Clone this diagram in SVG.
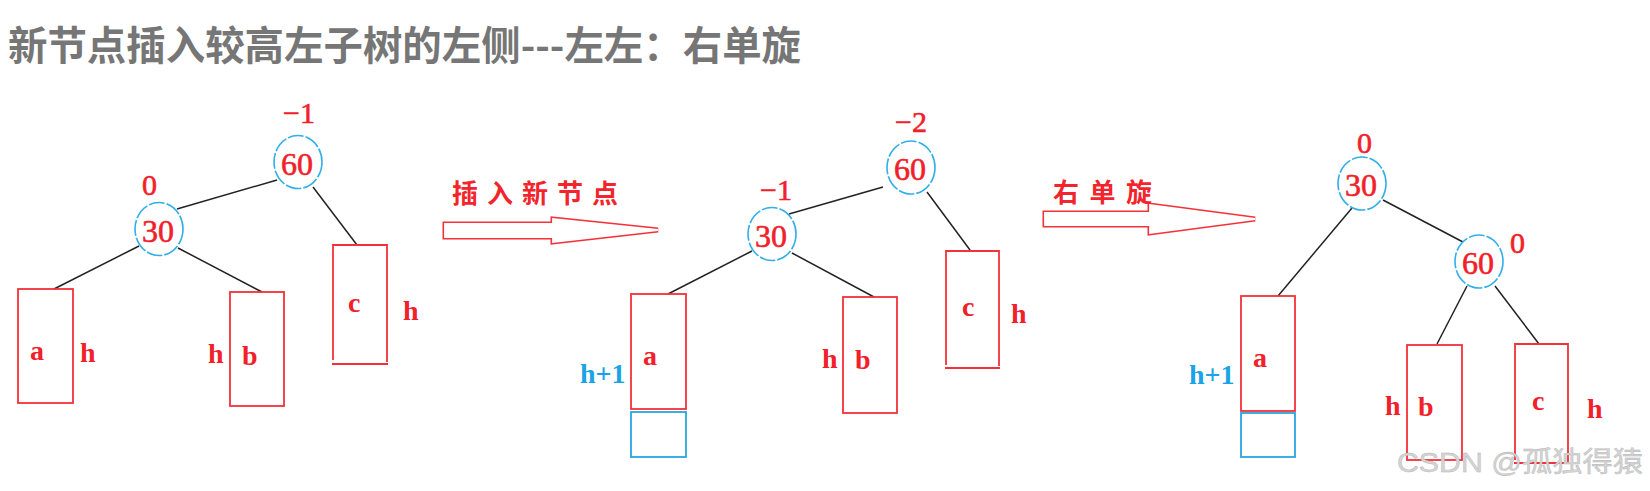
<svg xmlns="http://www.w3.org/2000/svg" width="1650" height="491" viewBox="0 0 1650 491">
<style>
.title{font-family:"Noto Sans CJK SC","Noto Sans",sans-serif;font-weight:bold;font-size:40px;fill:#767676}
.cap{font-family:"Noto Sans CJK SC",sans-serif;font-weight:bold;font-size:26px;fill:#f2242c}
.num{font-family:"Liberation Serif","DejaVu Serif",serif;font-size:32px;fill:#f2202a;stroke:#f2202a;stroke-width:0.6;text-anchor:middle}
.bal{font-family:"Liberation Serif","DejaVu Serif",serif;font-size:30px;fill:#f2202a;stroke:#f2202a;stroke-width:0.6}
.lbl{font-family:"Liberation Serif","DejaVu Serif",serif;font-weight:bold;font-size:28px;fill:#f2202a}
.blu{font-family:"Liberation Serif","DejaVu Serif",serif;font-weight:bold;font-size:28px;fill:#1aa3e6}
.circ{fill:none;stroke:#30aeea;stroke-width:1.6;stroke-dasharray:16 2}
.box{fill:none;stroke:#f43038;stroke-width:1.8}
.bbox{fill:none;stroke:#28a6e2;stroke-width:1.8}
.edge{stroke:#222;stroke-width:1.5;fill:none}
.arO{fill:#fff;stroke:#f4323a;stroke-width:5;stroke-linejoin:miter}
.arI{fill:#fff;stroke:#fff;stroke-width:1.8;stroke-linejoin:miter}
.wm{font-family:"Liberation Sans","Noto Sans CJK SC",sans-serif;font-size:28px;fill:#d4d4d4;stroke:#b4b4b4;stroke-width:0.4}
</style>
<rect width="1650" height="491" fill="#fff"/>
<text class="title" x="8" y="60" textLength="793" lengthAdjust="spacingAndGlyphs">新节点插入较高左子树的左侧---左左：右单旋</text>

<g id="connectors">
  <line class="edge" x1="177" y1="209" x2="277" y2="180"/>
  <line class="edge" x1="313" y1="187" x2="357" y2="245"/>
  <line class="edge" x1="139" y1="246" x2="54" y2="289"/>
  <line class="edge" x1="178" y1="248" x2="262" y2="292"/>
  <line class="edge" x1="789" y1="214" x2="883" y2="187"/>
  <line class="edge" x1="927" y1="192" x2="970" y2="250"/>
  <line class="edge" x1="752" y1="251" x2="668" y2="294"/>
  <line class="edge" x1="792" y1="253" x2="874" y2="297"/>
  <line class="edge" x1="1352" y1="208" x2="1278" y2="296"/>
  <line class="edge" x1="1383" y1="200" x2="1463" y2="242"/>
  <line class="edge" x1="1467" y1="286" x2="1437" y2="344"/>
  <line class="edge" x1="1495" y1="286" x2="1539" y2="344"/>
</g>

<g id="arrow-insert">
  <polygon class="arO" points="445,224 553,224 553,219 658,230 553,242 553,237 445,237"/>
  <polygon class="arI" points="445,224 553,224 553,219 658,230 553,242 553,237 445,237"/>
  <text class="cap" x="452" y="203" textLength="166">插入新节点</text>
</g>
<g id="arrow-rotate">
  <polygon class="arO" points="1045,213 1150,213 1150,205 1255,219 1150,233 1150,225 1045,225"/>
  <polygon class="arI" points="1045,213 1150,213 1150,205 1255,219 1150,233 1150,225 1045,225"/>
  <text class="cap" x="1053" y="202" textLength="99">右单旋</text>
</g>

<!-- Tree 1 -->
<g id="t1-n60">
  <ellipse class="circ" cx="298" cy="162" rx="24" ry="26.5"/>
  <text class="num" x="297" y="175">60</text>
  <text class="bal" x="283" y="123">−1</text>
</g>
<g id="t1-n30">
  <ellipse class="circ" cx="159" cy="229" rx="24" ry="26.5"/>
  <text class="num" x="158" y="242">30</text>
  <text class="bal" x="142" y="195">0</text>
</g>
<g id="t1-a">
  <rect class="box" x="18" y="289" width="55" height="114"/>
  <text class="lbl" x="30" y="360">a</text>
  <text class="lbl" x="80" y="362">h</text>
</g>
<g id="t1-b">
  <rect class="box" x="230" y="292" width="54" height="114"/>
  <text class="lbl" x="208" y="363">h</text>
  <text class="lbl" x="242" y="365">b</text>
</g>
<g id="t1-c">
  <path class="box" d="M333,360 V245 H387 V362 M332,364 H388"/>
  <text class="lbl" x="348" y="312">c</text>
  <text class="lbl" x="403" y="320">h</text>
</g>

<!-- Tree 2 -->
<g id="t2-n60">
  <ellipse class="circ" cx="911" cy="167.5" rx="24" ry="26.5"/>
  <text class="num" x="910" y="180">60</text>
  <text class="bal" x="895" y="132">−2</text>
</g>
<g id="t2-n30">
  <ellipse class="circ" cx="772" cy="234" rx="24" ry="26.5"/>
  <text class="num" x="771" y="247">30</text>
  <text class="bal" x="760" y="200">−1</text>
</g>
<g id="t2-a">
  <rect class="box" x="631" y="294" width="55" height="115"/>
  <rect class="bbox" x="631" y="412" width="55" height="45"/>
  <text class="lbl" x="643" y="365">a</text>
  <text class="blu" x="580" y="383">h+1</text>
</g>
<g id="t2-b">
  <rect class="box" x="843" y="297" width="54" height="116"/>
  <text class="lbl" x="822" y="368">h</text>
  <text class="lbl" x="855" y="369">b</text>
</g>
<g id="t2-c">
  <path class="box" d="M946,365 V251 H999 V366 M945,368 H1000"/>
  <text class="lbl" x="962" y="316">c</text>
  <text class="lbl" x="1011" y="323">h</text>
</g>

<!-- Tree 3 -->
<g id="t3-n30">
  <ellipse class="circ" cx="1362" cy="183.5" rx="24" ry="26.5"/>
  <text class="num" x="1361" y="196">30</text>
  <text class="bal" x="1357" y="153">0</text>
</g>
<g id="t3-n60">
  <ellipse class="circ" cx="1479" cy="261.5" rx="24" ry="26.5"/>
  <text class="num" x="1478" y="274">60</text>
  <text class="bal" x="1510" y="253">0</text>
</g>
<g id="t3-a">
  <rect class="box" x="1241" y="296" width="54" height="115"/>
  <rect class="bbox" x="1241" y="413" width="54" height="44"/>
  <text class="lbl" x="1253" y="367">a</text>
  <text class="blu" x="1189" y="384">h+1</text>
</g>
<g id="t3-b">
  <rect class="box" x="1407" y="345" width="55" height="115"/>
  <text class="lbl" x="1385" y="415">h</text>
  <text class="lbl" x="1418" y="416">b</text>
</g>
<g id="t3-c">
  <path class="box" d="M1515,460 V344 H1568 V462 M1514,463 H1569"/>
  <text class="lbl" x="1532" y="410">c</text>
  <text class="lbl" x="1587" y="418">h</text>
</g>

<text class="wm" x="1397" y="472" textLength="246" lengthAdjust="spacingAndGlyphs">CSDN @孤独得猿</text>
</svg>
